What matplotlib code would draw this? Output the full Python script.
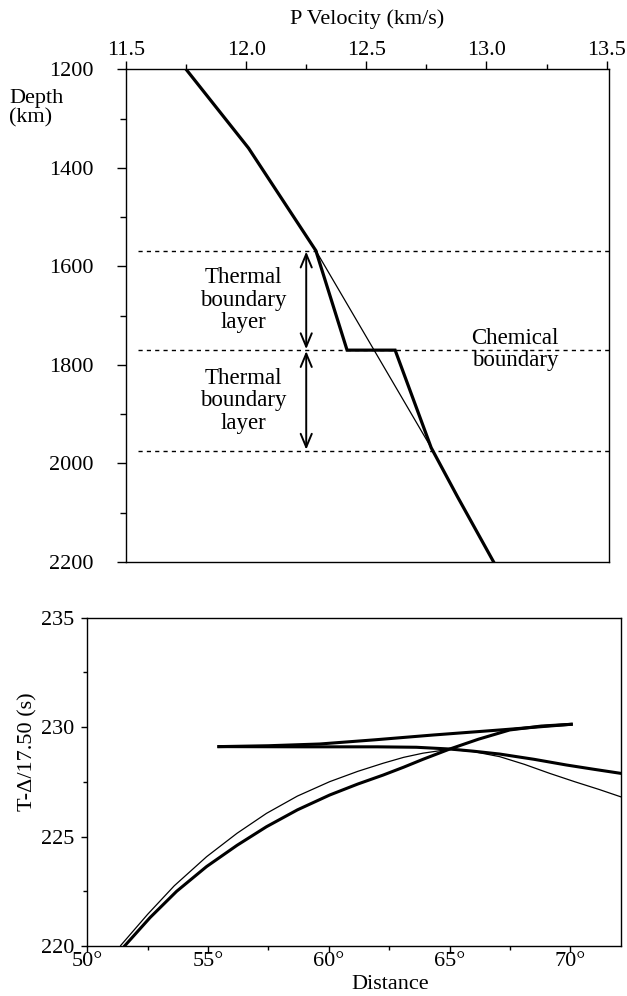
import numpy as np
import matplotlib
matplotlib.use("Agg")
import matplotlib.pyplot as plt
from matplotlib.ticker import MultipleLocator, FuncFormatter

plt.rcParams['font.family'] = ['Liberation Serif', 'DejaVu Serif']
plt.rcParams['font.size'] = 16

# Top panel: P velocity vs depth
vel_layered = [11.75, 12.01, 12.29, 12.42, 12.62, 12.77, 12.88, 13.03]
depth_layered = [1200, 1360, 1568, 1770, 1770, 1968, 2068, 2200]
vel_smooth = [12.29, 12.77]
depth_smooth = [1568, 1968]
boundary_depths = [1568, 1770, 1974]

# Bottom panel: reduced travel time vs distance
dist_thin = [51.38, 52.5, 53.6, 54.94, 56.2, 57.42, 58.7, 60.04, 61.2, 62.25,
             63.1, 63.90, 65.01, 66.0, 67.08, 68.1, 69.14, 70.2, 71.2, 72.08]
time_thin = [220.02, 221.45, 222.75, 224.08, 225.15, 226.06, 226.85, 227.51, 227.98, 228.35,
             228.62, 228.81, 228.99, 228.88, 228.65, 228.30, 227.89, 227.50, 227.15, 226.82]

dist_branch_a = [51.56, 52.6, 53.7, 54.94, 56.2, 57.42, 58.7, 60.04, 61.2, 62.25,
                 63.1, 63.90, 65.01, 66.2, 67.49, 68.8, 70.04]
time_branch_a = [220.02, 221.3, 222.5, 223.63, 224.6, 225.45, 226.22, 226.90, 227.40, 227.81,
                 228.17, 228.53, 229.00, 229.45, 229.87, 230.05, 230.13]

dist_branch_b = [70.04, 67.2, 64.32, 61.9, 59.63, 57.5, 55.45]
time_branch_b = [230.13, 229.88, 229.64, 229.42, 229.23, 229.15, 229.11]

dist_branch_c = [55.45, 59.0, 62.0, 63.63, 65.01, 66.0, 67.08, 68.5, 69.84, 71.0, 72.08]
time_branch_c = [229.11, 229.10, 229.10, 229.08, 229.00, 228.90, 228.77, 228.53, 228.27, 228.07, 227.89]

W, H = 627, 996
fig = plt.figure(figsize=(W / 100, H / 100), dpi=100)

# ---- top panel
ax1 = fig.add_axes([126 / W, 1 - 562 / H, 483 / W, (562 - 69.3) / H])
ax1.plot(vel_layered, depth_layered, color='black', lw=2.3, solid_joinstyle='miter')
ax1.plot(vel_smooth, depth_smooth, color='black', lw=0.9)
for d in boundary_depths:
    ax1.hlines(d, 11.55, 13.52, colors='black', lw=1.0, linestyles=(0, (3, 3)))

for d0, d1 in [(boundary_depths[0], boundary_depths[1]), (boundary_depths[1], boundary_depths[2])]:
    ax1.annotate('', xy=(12.25, d0 + 2), xytext=(12.25, d1 - 2),
                 arrowprops=dict(arrowstyle='<->,head_length=0.6,head_width=0.25',
                                 color='black', lw=1.4, shrinkA=0, shrinkB=0))

ax1.text(11.99, 1669, 'Thermal\nboundary\nlayer', ha='center', va='center',
         fontsize=16.5, linespacing=1.1)
ax1.text(11.99, 1873, 'Thermal\nboundary\nlayer', ha='center', va='center',
         fontsize=16.5, linespacing=1.1)
ax1.text(13.12, 1768, 'Chemical\nboundary', ha='center', va='center',
         fontsize=16.5, linespacing=1.05)

ax1.set_xlim(11.5, 13.51)
ax1.set_ylim(2200, 1200)
ax1.xaxis.tick_top()
ax1.xaxis.set_major_locator(MultipleLocator(0.5))
ax1.xaxis.set_minor_locator(MultipleLocator(0.25))
ax1.xaxis.set_major_formatter(FuncFormatter(lambda v, p: f'{v:.1f}'))
ax1.yaxis.set_major_locator(MultipleLocator(200))
ax1.yaxis.set_minor_locator(MultipleLocator(100))
ax1.tick_params(axis='x', which='both', direction='out', top=True, bottom=False, pad=1)
ax1.tick_params(axis='x', which='major', length=5.5, width=1)
ax1.tick_params(axis='x', which='minor', length=3.5, width=1)
ax1.tick_params(axis='y', which='both', direction='out', left=True, right=False, pad=17)
ax1.tick_params(axis='y', which='major', length=6.5, width=1)
ax1.tick_params(axis='y', which='minor', length=4, width=1)
for s in ax1.spines.values():
    s.set_linewidth(1.0)

fig.text(367 / W, 1 - 19 / H, 'P Velocity (km/s)', ha='center', va='center', fontsize=16)
fig.text(9 / W, 1 - 108 / H, 'Depth\n(km)', ha='left', va='center', fontsize=16,
         linespacing=1.05)

# ---- bottom panel
ax2 = fig.add_axes([87.3 / W, 1 - 946 / H, (621 - 87.3) / W, (946 - 617.7) / H])
ax2.plot(dist_thin, time_thin, color='black', lw=0.9)
ax2.plot(dist_branch_a, time_branch_a, color='black', lw=2.2)
ax2.plot(dist_branch_b, time_branch_b, color='black', lw=2.2)
ax2.plot(dist_branch_c, time_branch_c, color='black', lw=2.2)

ax2.set_xlim(50, 72.1)
ax2.set_ylim(220, 235)
ax2.xaxis.set_major_locator(MultipleLocator(5))
ax2.xaxis.set_minor_locator(MultipleLocator(2.5))
ax2.xaxis.set_major_formatter(FuncFormatter(lambda v, p: f'{v:.0f}°'))
ax2.yaxis.set_major_locator(MultipleLocator(5))
ax2.yaxis.set_minor_locator(MultipleLocator(2.5))
ax2.tick_params(axis='both', which='both', direction='out', top=False, right=False)
ax2.tick_params(axis='x', which='major', length=4.5, width=1, pad=0)
ax2.tick_params(axis='x', which='minor', length=3, width=1, pad=0)
ax2.tick_params(axis='y', which='major', length=4.5, width=1, pad=5)
ax2.tick_params(axis='y', which='minor', length=3, width=1)
for s in ax2.spines.values():
    s.set_linewidth(1.0)

fig.text(28 / W, 1 - 752 / H, 'T-Δ/17.50 (s)', ha='center', va='center',
         rotation=90, fontsize=16)
fig.text(390 / W, 1 - 984 / H, 'Distance', ha='center', va='center', fontsize=16)

fig.savefig('out.png', dpi=100)
